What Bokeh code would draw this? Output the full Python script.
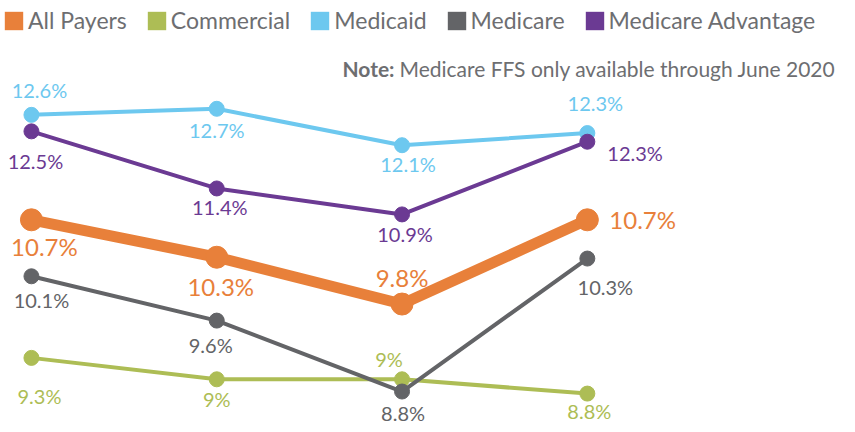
from bokeh.plotting import figure
from bokeh.models import Range1d, ColumnDataSource, Legend, LegendItem, Label
from bokeh.core.properties import value
from bokeh.embed import file_html
from bokeh.resources import INLINE

# ---------------- data ----------------
periods = [0, 1, 2, 3]  # four reporting periods (not labelled in the source)
series_names = ["All Payers", "Commercial", "Medicaid", "Medicare", "Medicare Advantage"]
all_payers = [10.7, 10.3, 9.8, 10.7]
commercial = [9.3, 9.0, 9.0, 8.8]
medicaid = [12.6, 12.7, 12.1, 12.3]
medicare = [10.1, 9.6, 8.8, 10.3]
medicare_advantage = [12.5, 11.4, 10.9, 12.3]
note_bold = "Note:"
note_text = "Medicare FFS only available through June 2020"

values = {
    "All Payers": all_payers,
    "Commercial": commercial,
    "Medicaid": medicaid,
    "Medicare": medicare,
    "Medicare Advantage": medicare_advantage,
}

# ---------------- styles ----------------
FONT = "Lato"
TEXT_GREY = "#6d6e71"
colors = {
    "All Payers": "#e8803a",
    "Commercial": "#adbd55",
    "Medicaid": "#6dc8ef",
    "Medicare": "#636467",
    "Medicare Advantage": "#6b3a93",
}
# each series sits on its own (hidden) value axis, as in the original layered chart
axis_ranges = {
    "All Payers": (8.513, 13.043),
    "Commercial": (8.367, 14.305),
    "Medicaid": (7.499, 14.484),
    "Medicare": (8.428, 13.211),
    "Medicare Advantage": (6.854, 15.020),
}
line_widths = {"All Payers": 11}
marker_sizes = {"All Payers": 22}
label_sizes = {"All Payers": "24px"}
# label placement relative to its point: (dx, dy, align)
label_place = {
    "All Payers": [(13, 27, "center"), (4, 29, "center"), (0, -27, "center"), (22, 0, "left")],
    "Commercial": [(8, 38, "center"), (0, 20, "center"), (-13, -20, "center"), (2, 17, "center")],
    "Medicaid": [(8, -25, "center"), (0, 21, "center"), (6, 19, "center"), (8, -30, "center")],
    "Medicare": [(10, 24, "center"), (-6, 24, "center"), (1, 21, "center"), (18, 28, "center")],
    "Medicare Advantage": [(4, 30, "center"), (3, 19, "center"), (3, 20, "center"), (20, 11, "left")],
}

W, H = 847, 424
p = figure(width=W, height=H, output_backend="svg", toolbar_location=None,
           x_range=Range1d(-0.167, 4.404), y_range=Range1d(0, 1),
           min_border=0, x_axis_type=None, y_axis_type=None)
p.outline_line_color = None
p.xgrid.visible = False
p.ygrid.visible = False
p.background_fill_color = "white"
p.border_fill_color = "white"

for name in series_names:
    p.extra_y_ranges[name] = Range1d(*axis_ranges[name])

legend_items = []
for name in series_names:
    vals = values[name]
    col = colors[name]
    src = ColumnDataSource(dict(x=periods, y=vals))
    p.line("x", "y", source=src, y_range_name=name, line_color=col,
           line_width=line_widths.get(name, 4))
    p.scatter("x", "y", source=src, y_range_name=name, size=marker_sizes.get(name, 15),
              fill_color=col, line_color=col)
    # zero-size rects: only used to draw the square legend swatch
    sw = p.rect("x", "y", source=src, y_range_name=name, width=0, height=0,
                fill_color=col, line_color=None)
    legend_items.append(LegendItem(label=name, renderers=[sw]))

for name in series_names:
    vals = values[name]
    col = colors[name]
    place = label_place[name]
    for i, v in enumerate(vals):
        dx, dy, align = place[i]
        p.text(x=[periods[i]], y=[v], text=[f"{v:g}%"], y_range_name=name,
               x_offset=dx, y_offset=dy, text_align=align, text_baseline="middle",
               text_color=col, text_font=value(FONT),
               text_font_size=label_sizes.get(name, "20px"))

legend = Legend(items=legend_items, orientation="horizontal", location=(2, 390),
                glyph_width=23, glyph_height=23, label_height=23,
                label_standoff=3, spacing=18, padding=0, margin=0,
                border_line_color=None, background_fill_alpha=0,
                label_text_font=FONT, label_text_font_size="23px",
                label_text_color=TEXT_GREY)
p.add_layout(legend)

p.add_layout(Label(x=394, y=356, x_units="screen", y_units="screen", text=note_bold,
                   text_font=FONT, text_font_style="bold", text_font_size="21px",
                   text_color=TEXT_GREY, text_baseline="middle", text_align="right"))
p.add_layout(Label(x=399, y=356, x_units="screen", y_units="screen", text=note_text,
                   text_font=FONT, text_font_size="21px",
                   text_color=TEXT_GREY, text_baseline="middle"))

open("out.html", "w").write(file_html(p, INLINE))
